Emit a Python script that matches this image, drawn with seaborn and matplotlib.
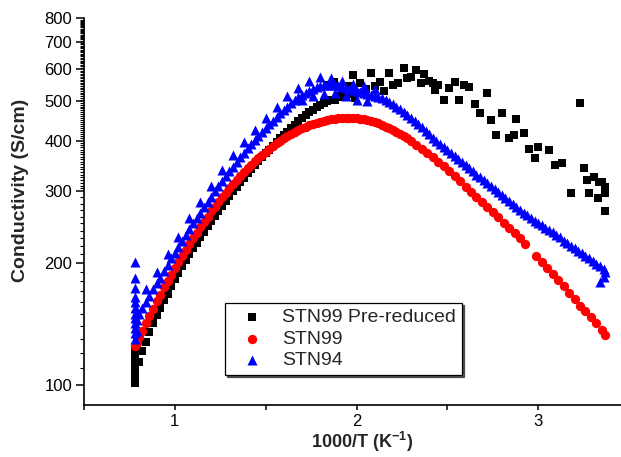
import matplotlib
matplotlib.use("Agg")
import matplotlib.pyplot as plt
import seaborn as sns
from matplotlib.ticker import FixedLocator, FixedFormatter, NullFormatter

sns.set_style("ticks")
plt.rcParams["font.family"] = ["Liberation Sans", "DejaVu Sans"]
plt.rcParams["mathtext.fontset"] = "custom"
plt.rcParams["mathtext.rm"] = "Liberation Sans"
plt.rcParams["mathtext.bf"] = "Liberation Sans:bold"

# ---------------- data ----------------
pre_x = [0.78, 0.78, 0.78, 0.78, 0.78, 0.78, 0.78, 0.78, 0.79, 0.79, 0.79,
         0.80, 0.82, 0.84, 0.86, 0.88, 0.90, 0.92, 0.94, 0.96, 0.98,
         1.00, 1.02, 1.04, 1.06, 1.08, 1.10, 1.12, 1.14, 1.16, 1.18,
         1.20, 1.22, 1.24, 1.26, 1.28, 1.30, 1.32, 1.34, 1.36, 1.38,
         1.40, 1.42, 1.44, 1.46, 1.48, 1.50, 1.52, 1.54, 1.56, 1.58,
         1.60, 1.62, 1.64, 1.66, 1.68, 1.70, 1.72, 1.74, 1.76, 1.78,
         1.80, 1.82, 1.84, 1.86, 1.88, 1.92, 1.95, 1.99,
         1.84, 1.875, 1.90, 1.93, 1.96, 1.98, 2.00, 2.02, 2.05, 2.08,
         2.10, 2.13, 2.15, 2.18, 2.20, 2.23, 2.26, 2.28, 2.30, 2.33,
         2.355, 2.37, 2.40, 2.42, 2.43, 2.45, 2.48, 2.51, 2.54, 2.565,
         2.59, 2.62, 2.65, 2.68, 2.72, 2.74, 2.77, 2.80, 2.84, 2.865,
         2.88, 2.92, 2.95, 2.98, 3.00, 3.06, 3.09, 3.13, 3.18, 3.23,
         3.25, 3.27, 3.28, 3.31, 3.33, 3.335, 3.35, 3.37, 3.37, 3.37]
pre_y = [101, 103, 106, 109, 112, 115, 118, 121, 124, 127, 130,
         114, 121, 128, 135, 142, 149, 155, 162, 168, 175,
         182, 189, 196, 203, 210, 217, 224, 231, 238, 246,
         253, 261, 268, 276, 284, 292, 300, 308, 316, 324,
         332, 340, 348, 356, 364, 372, 380, 388, 396, 405,
         413, 421, 430, 438, 446, 454, 462, 470, 477, 484,
         490, 496, 501, 505, 505, 512, 520, 510,
         548, 557, 515, 530, 545, 580, 525, 555, 535, 587,
         545, 557, 530, 587, 548, 555, 604, 570, 574, 598,
         555, 584, 560, 555, 534, 548, 505, 539, 557, 505,
         548, 542, 491, 468, 525, 450, 414, 467, 405, 414,
         451, 417, 381, 362, 385, 380, 349, 352, 297, 495,
         342, 320, 297, 325, 289, 316, 316, 307, 297, 269]

stn99_x = [0.78, 0.79, 0.79,
           0.80, 0.82, 0.84, 0.86, 0.88, 0.90, 0.92, 0.94, 0.96, 0.98,
           1.00, 1.02, 1.04, 1.06, 1.08, 1.10, 1.12, 1.14, 1.16, 1.18,
           1.20, 1.22, 1.24, 1.26, 1.28, 1.30, 1.32, 1.34, 1.36, 1.38,
           1.40, 1.42, 1.44, 1.46, 1.48, 1.50, 1.52, 1.54, 1.56, 1.58,
           1.60, 1.62, 1.64, 1.66, 1.68, 1.70, 1.72, 1.74, 1.76, 1.78,
           1.80, 1.82, 1.84, 1.86, 1.88, 1.90, 1.92, 1.94, 1.96, 1.98,
           2.00, 2.02, 2.04, 2.06, 2.08, 2.10, 2.12, 2.14, 2.16, 2.18,
           2.20, 2.22, 2.24, 2.26, 2.28, 2.30, 2.33, 2.36, 2.39, 2.42,
           2.45, 2.48, 2.51, 2.54, 2.57, 2.60, 2.63, 2.66, 2.69, 2.72,
           2.75, 2.78, 2.81, 2.84, 2.87, 2.90, 2.93,
           2.99, 3.02, 3.05, 3.08, 3.11, 3.14, 3.17, 3.20, 3.23, 3.26,
           3.29, 3.32, 3.35, 3.37]
stn99_y = [125, 127, 131,
           131, 136, 142, 148, 154, 161, 167, 174, 180, 187,
           194, 201, 208, 215, 223, 230, 237, 245, 252, 260,
           268, 275, 283, 290, 298, 305, 313, 320, 327, 335,
           342, 349, 356, 363, 369, 376, 382, 388, 394, 400,
           405, 411, 415, 420, 425, 429, 433, 436, 440, 443,
           445, 448, 450, 451, 453, 454, 455, 455, 455, 455,
           454, 453, 451, 449, 447, 444, 441, 437, 433, 429,
           425, 420, 415, 410, 405, 399, 391, 382, 373, 364,
           355, 346, 336, 327, 318, 308, 299, 291, 283, 275,
           267, 259, 251, 244, 237, 230, 223,
           208, 201, 194, 188, 181, 175, 169, 163, 157, 152,
           147, 142, 137, 133]

stn94_x = [0.78, 0.78, 0.78, 0.78, 0.78, 0.78, 0.78, 0.78, 0.78, 0.78, 0.78, 0.78,
           0.79, 0.79, 0.79,
           0.80, 0.82, 0.84, 0.86, 0.88, 0.90, 0.92, 0.94, 0.96, 0.98,
           1.00, 1.02, 1.04, 1.06, 1.08, 1.10, 1.12, 1.14, 1.16, 1.18,
           1.20, 1.22, 1.24, 1.26, 1.28, 1.30, 1.32, 1.34, 1.36, 1.38,
           1.40, 1.42, 1.44, 1.46, 1.48, 1.50, 1.52, 1.54, 1.56, 1.58,
           1.60, 1.62, 1.64, 1.66, 1.68, 1.70, 1.72, 1.74, 1.76, 1.78,
           1.80, 1.82, 1.84, 1.86, 1.88, 1.90, 1.92, 1.94, 1.96, 1.98,
           2.00, 2.02, 2.04, 2.06, 2.08, 2.10, 2.12, 2.14, 2.16, 2.18,
           2.20, 2.22, 2.24, 2.26, 2.28, 2.30, 2.32, 2.34, 2.36, 2.38,
           2.40, 2.42, 2.44, 2.46, 2.48, 2.50, 2.52, 2.54, 2.56, 2.58,
           2.60, 2.62, 2.64, 2.66, 2.68, 2.70, 2.72, 2.74, 2.76, 2.78,
           2.80, 2.82, 2.84, 2.86, 2.88, 2.90, 2.92, 2.94, 2.96, 2.98,
           3.00, 3.02, 3.04, 3.06, 3.08, 3.10, 3.12, 3.14, 3.16, 3.18,
           3.20, 3.22, 3.24, 3.26, 3.28, 3.30, 3.32, 3.34, 3.36, 3.37,
           3.34, 3.36,
           0.84, 0.90, 0.96, 1.02, 1.08, 1.14, 1.20, 1.26, 1.32, 1.38,
           1.44, 1.50, 1.56, 1.62, 1.68, 1.74, 1.80, 1.86, 1.92, 1.98,
           2.04, 2.10, 1.70, 1.76, 1.82, 1.88, 1.94, 2.00, 2.06]
stn94_y = [130, 134, 138, 142, 146, 150, 155, 160, 165, 173, 183, 201,
           136, 145, 152,
           150, 155, 160, 166, 172, 178, 184, 191, 198, 205,
           212, 219, 227, 234, 242, 250, 258, 266, 274, 283,
           291, 300, 309, 318, 327, 336, 345, 354, 364, 373,
           383, 392, 401, 411, 420, 430, 439, 448, 458, 467,
           476, 485, 494, 503, 511, 518, 525, 531, 537, 541,
           545, 547, 548, 548, 547, 545, 543, 540, 537, 534,
           531, 528, 525, 522, 519, 516, 512, 508, 503, 498,
           492, 485, 478, 471, 463, 455, 447, 439, 431, 423,
           415, 407, 400, 393, 386, 379, 372, 366, 360, 354,
           348, 342, 336, 330, 325, 320, 315, 309, 304, 299,
           294, 289, 284, 279, 275, 270, 266, 262, 258, 254,
           251, 248, 244, 241, 238, 234, 231, 227, 224, 220,
           217, 214, 211, 208, 205, 202, 199, 196, 193, 190,
           179, 185,
           172, 190, 210, 232, 258, 282, 310, 338, 368, 396,
           425, 455, 485, 515, 540, 560, 575, 570, 560, 550,
           545, 535, 505, 515, 520, 525, 515, 505, 500]

labels = ["STN99 Pre-reduced", "STN99", "STN94"]
y_major = [100, 200, 300, 400, 500, 600, 700, 800]
y_minor = [v for v in range(110, 300, 10) if v != 200] + \
          [v for v in range(305, 800, 5) if v % 100 != 0]
x_major = [1, 2, 3]
x_minor = [0.5, 1.5, 2.5, 3.5]

# ---------------- figure ----------------
fig = plt.figure(figsize=(6.21, 4.57), dpi=100)
ax = fig.add_axes([84 / 621, 52 / 457, 545 / 621, 386.6 / 457])

sns.scatterplot(x=pre_x, y=pre_y, marker="s", s=33, color="#000000",
                linewidth=0, label=labels[0], ax=ax, zorder=2)
sns.scatterplot(x=stn99_x, y=stn99_y, marker="o", s=45, color="#FF0000",
                linewidth=0, label=labels[1], ax=ax, zorder=3)
sns.scatterplot(x=stn94_x, y=stn94_y, marker="^", s=52, color="#0000FF",
                linewidth=0, label=labels[2], ax=ax, zorder=4)

ax.set_yscale("log")
ax.set_ylim(89.3, 800)
ax.set_xlim(0.5, 3.5)

ax.yaxis.set_major_locator(FixedLocator(y_major))
ax.yaxis.set_major_formatter(FixedFormatter([str(v) for v in y_major]))
ax.yaxis.set_minor_locator(FixedLocator(y_minor))
ax.yaxis.set_minor_formatter(NullFormatter())
ax.xaxis.set_major_locator(FixedLocator(x_major))
ax.xaxis.set_major_formatter(FixedFormatter([str(v) for v in x_major]))
ax.xaxis.set_minor_locator(FixedLocator(x_minor))

for side in ("top", "right"):
    ax.spines[side].set_visible(False)
for side in ("left", "bottom"):
    ax.spines[side].set_linewidth(1.2)
    ax.spines[side].set_color("black")

ax.tick_params(axis="y", which="major", direction="out", length=5.5, width=1.1,
               labelsize=12, pad=3, colors="black")
ax.tick_params(axis="y", which="minor", direction="out", length=3.0, width=0.8,
               colors="black")
ax.tick_params(axis="x", which="both", direction="out", length=3.8, width=1.1,
               labelsize=12, pad=3, colors="black")

ax.set_xlabel(r"1000/T (K$^{\mathbf{-1}}$)", fontsize=13, fontweight="bold")
ax.set_ylabel("Conductivity (S/cm)", fontsize=14, fontweight="bold")
ax.xaxis.set_label_coords(0.51, -0.064)
ax.yaxis.set_label_coords(-0.101, 0.555)

leg = ax.legend(loc="upper left", bbox_to_anchor=(0.2587, 0.2638),
                borderaxespad=0, fontsize=14, frameon=True, fancybox=False,
                edgecolor="black", framealpha=1, borderpad=0.3,
                handlelength=2.2, handletextpad=0.45, labelspacing=0.2,
                shadow={"color": "0.3", "alpha": 1, "ox": 1.5, "oy": -1.5})
leg.get_frame().set_linewidth(0.9)

fig.savefig("out.png", dpi=100)
